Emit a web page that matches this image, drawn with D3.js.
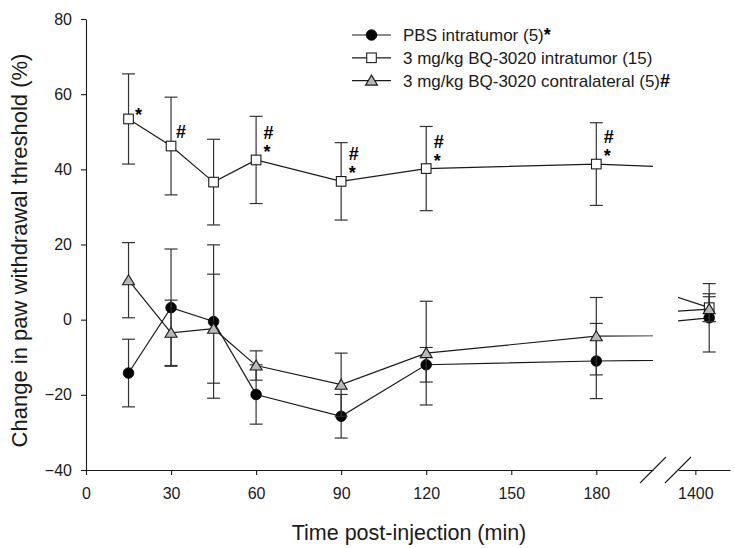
<!DOCTYPE html>
<html><head><meta charset="utf-8">
<script src="https://cdn.jsdelivr.net/npm/d3@7"></script>
<style>body{margin:0;background:#fff}svg{display:block}text{font-family:Arial,"Liberation Sans",sans-serif}</style>
</head><body>
<script>
// ---- data ----
const times = [15, 30, 45, 60, 90, 120, 180, 1440];
const pbsMean = [-14.2, 3.2, -0.5, -19.9, -25.7, -12.0, -11.0, 0.5];
const pbsSem = [9.0, 15.6, 20.4, 7.9, 5.8, 4.6, 10.0, 9.1];
const bqMean = [53.4, 46.2, 36.6, 42.5, 36.8, 40.2, 41.4, 3.2];
const bqSem = [12.0, 13.0, 11.4, 11.6, 10.3, 11.2, 11.0, 3.7];
const contraMean = [10.5, -3.5, -2.4, -12.2, -17.3, -8.9, -4.4, 2.8];
const contraSem = [10.0, 8.7, 14.5, 3.9, 8.4, 13.8, 10.3, 3.3];
const seriesNames = ["PBS intratumor (5)", "3 mg/kg BQ-3020 intratumor (15)", "3 mg/kg BQ-3020 contralateral (5)"];
const legendSuffix = ["*", "", "#"];
const xTicksA = [0, 30, 60, 90, 120, 150, 180];
const xTicksB = [1400];
const yTicks = [-40, -20, 0, 20, 40, 60, 80];
const annoTimes = [15, 30, 60, 90, 120, 180];
const annoLabels = [["*"], ["#"], ["#", "*"], ["#", "*"], ["#", "*"], ["#", "*"]];
const xTitle = "Time post-injection (min)";
const yTitle = "Change in paw withdrawal threshold (%)";

// ---- layout ----
const W = 735, H = 548;
const svg = d3.select("body").append("svg").attr("width", W).attr("height", H);
const xA = d3.scaleLinear().domain([0, 200]).range([86, 653]);
const xB = d3.scaleLinear().domain([1350, 1500]).range([678, 730]);
const y = d3.scaleLinear().domain([-40, 80]).range([470, 19]);
const xPos = t => t <= xA.domain()[1] ? xA(t) : xB(t);
const ink = "#1a1a1a";

const defs = svg.append("defs");
defs.append("clipPath").attr("id", "clipA").append("rect")
  .attr("x", 0).attr("y", 0).attr("width", xA.range()[1]).attr("height", H);
defs.append("clipPath").attr("id", "clipB").append("rect")
  .attr("x", xB.range()[0]).attr("y", 0).attr("width", W - xB.range()[0]).attr("height", H);

// axes
const fs = "16px";
const gx1 = svg.append("g").attr("transform", `translate(0,${y(-40)})`)
  .call(d3.axisBottom(xA).tickValues(xTicksA).tickSize(5).tickSizeOuter(0).tickPadding(13));
const gx2 = svg.append("g").attr("transform", `translate(0,${y(-40)})`)
  .call(d3.axisBottom(xB).tickValues(xTicksB).tickSize(5).tickSizeOuter(0).tickPadding(13).tickFormat(d3.format("d")));
const gy = svg.append("g").attr("transform", `translate(${xA(0)},0)`)
  .call(d3.axisLeft(y).tickValues(yTicks).tickSize(5).tickSizeOuter(0).tickPadding(9));
[gx1, gx2, gy].forEach(g => {
  g.selectAll("path,line").attr("stroke", ink).attr("stroke-width", 1.1);
  g.selectAll("text").attr("fill", ink).style("font-size", fs).style("font-family", "Arial, 'Liberation Sans', sans-serif");
});

// axis break marks
[xA.range()[1], xB.range()[0]].forEach(cx => {
  svg.append("line").attr("x1", cx - 13).attr("y1", y(-40) + 13).attr("x2", cx + 13).attr("y2", y(-40) - 13)
    .attr("stroke", ink).attr("stroke-width", 1.1);
});

// titles
svg.append("text").attr("x", 409).attr("y", 540).attr("text-anchor", "middle")
  .style("font-size", "21.5px").attr("fill", ink).text(xTitle);
svg.append("text").attr("transform", `translate(27,${(y(80) + y(-40)) / 2 + 6}) rotate(-90)`)
  .attr("text-anchor", "middle").style("font-size", "22px").attr("fill", ink).text(yTitle);

// series
const series = [
  { mean: pbsMean, sem: pbsSem, type: "circle", fill: "#000" },
  { mean: bqMean, sem: bqSem, type: "square", fill: "#fff" },
  { mean: contraMean, sem: contraSem, type: "triangle", fill: "#b8b8b8" }
];

function drawMarker(g, type, fill, cx, cy) {
  if (type === "circle") {
    g.append("circle").attr("cx", cx).attr("cy", cy).attr("r", 5.3).attr("fill", fill).attr("stroke", "#000").attr("stroke-width", 0.8);
  } else if (type === "square") {
    g.append("rect").attr("x", cx - 4.8).attr("y", cy - 4.8).attr("width", 9.6).attr("height", 9.6)
      .attr("fill", fill).attr("stroke", ink).attr("stroke-width", 1.1);
  } else {
    g.append("path").attr("d", `M${cx},${cy - 5.5}L${cx + 6},${cy + 4.5}L${cx - 6},${cy + 4.5}Z`)
      .attr("fill", fill).attr("stroke", ink).attr("stroke-width", 1.1);
  }
}

series.forEach(s => {
  const g = svg.append("g");
  const pts = times.map((t, i) => [t, s.mean[i]]);
  [["clipA", xA], ["clipB", xB]].forEach(([cp, sc]) => {
    g.append("path").attr("clip-path", `url(#${cp})`)
      .attr("d", d3.line().x(d => sc(d[0])).y(d => y(d[1]))(pts))
      .attr("fill", "none").attr("stroke", ink).attr("stroke-width", 1.2);
  });
  times.forEach((t, i) => {
    const cx = xPos(t), top = y(s.mean[i] + s.sem[i]), bot = y(s.mean[i] - s.sem[i]);
    g.append("line").attr("x1", cx).attr("x2", cx).attr("y1", top).attr("y2", bot).attr("stroke", "#333").attr("stroke-width", 1.2);
    [top, bot].forEach(yy => g.append("line").attr("x1", cx - 6.5).attr("x2", cx + 6.5).attr("y1", yy).attr("y2", yy)
      .attr("stroke", "#333").attr("stroke-width", 1.2));
  });
  times.forEach((t, i) => drawMarker(g, s.type, s.fill, xPos(t), y(s.mean[i])));
});

// significance annotations
const afs = "18px";
annoTimes.forEach((t, k) => {
  const i = times.indexOf(t);
  const px = xPos(t), py = y(bqMean[i]);
  const labs = annoLabels[k];
  if (labs.length === 1) {
    const lab = labs[0];
    svg.append("text").attr("x", px + 10).attr("y", lab === "*" ? py + 2 : py - 8).attr("text-anchor", "middle")
      .style("font-size", afs).style("font-weight", "bold").attr("fill", "#000").text(lab);
  } else {
    svg.append("text").attr("x", px + 12.5).attr("y", py - 21).attr("text-anchor", "middle")
      .style("font-size", afs).style("font-weight", "bold").attr("fill", "#000").text(labs[0]);
    svg.append("text").attr("x", px + 11).attr("y", py - 2).attr("text-anchor", "middle")
      .style("font-size", afs).style("font-weight", "bold").attr("fill", "#000").text(labs[1]);
  }
});

// legend
const lg = svg.append("g");
series.forEach((s, i) => {
  const ly = 35 + i * 22.8;
  lg.append("line").attr("x1", 352).attr("x2", 391).attr("y1", ly).attr("y2", ly).attr("stroke", ink).attr("stroke-width", 1.2);
  drawMarker(lg, s.type, s.fill, 371.5, ly);
  const t = lg.append("text").attr("x", 403).attr("y", ly + 6).style("font-size", "17px").attr("fill", ink);
  t.append("tspan").text(seriesNames[i]);
  if (legendSuffix[i]) t.append("tspan").style("font-weight", "bold").style("font-size", "18px").attr("fill", "#000").text(legendSuffix[i]);
});
</script>
</body></html>
